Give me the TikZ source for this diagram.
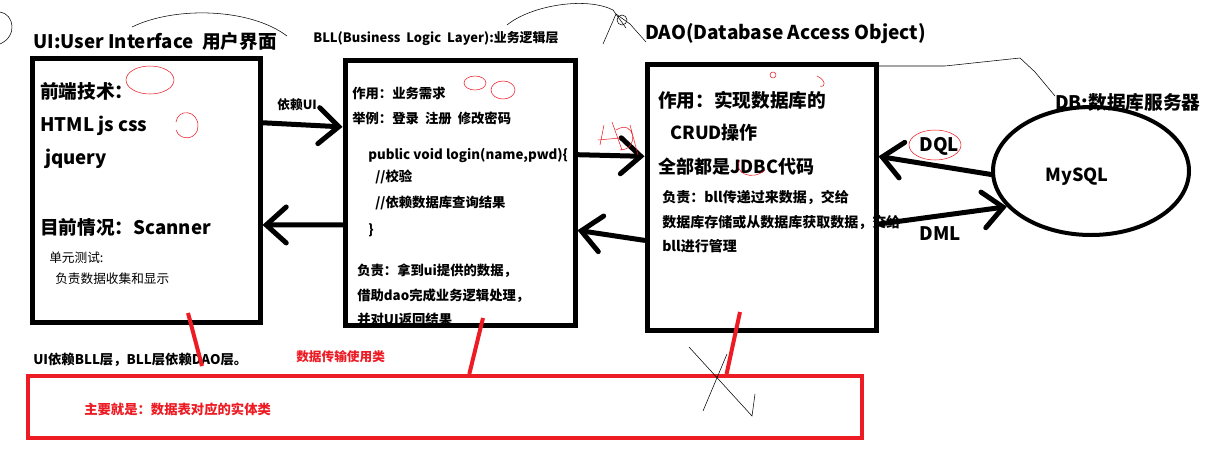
\documentclass[tikz,border=0pt]{standalone}
\usepackage{fontspec}
\setmainfont{Noto Sans CJK SC}
\usetikzlibrary{arrows.meta,calc,fit,shapes.geometric}
\definecolor{paintred}{RGB}{237,28,36}
\tikzset{
    layer/.style = {
        draw,
        line width=3.75pt,
        inner sep=0pt,
        },
    txt/.style = {
        anchor=base west,
        inner sep=0pt,
        },
    big/.style = {
        txt,
        font=\bfseries\fontsize{13.5}{16}\selectfont,
        },
    mid/.style = {
        txt,
        font=\bfseries\fontsize{10}{12}\selectfont,
        },
    small/.style = {
        txt,
        font=\fontsize{9.5}{11}\selectfont,
        },
    hand arrow/.style = {
        line width=3.75pt,
        line cap=round,
        -{Straight Barb[length=15pt, width=27pt, line cap=round]},
        },
    red line/.style = {
        draw=paintred,
        line width=3pt,
        },
    scribble/.style = {
        thin,
        },
    red scribble/.style = {
        draw=paintred,
        thin,
        },
}
\begin{document}
\begin{tikzpicture}[x=0.75pt, y=-0.75pt]
    \useasboundingbox (0,0) rectangle (1225,454);

    % layers
    \node[layer, fit={(32,58) (260,322)}] (ui) {};
    \node[layer, fit={(345,60) (575,325)}] (bll) {};
    \node[layer, fit={(647,64) (876,330)}] (dao) {};
    \node[draw, ellipse, line width=3pt, minimum width=147pt, minimum height=96pt] (db) at (1091,171) {};
    \node[draw=paintred, line width=3pt, inner sep=0pt, fit={(28,376) (862,438)}] (entity) {};

    % titles
    \node[big, font=\bfseries\fontsize{14}{16}\selectfont] (uiTitle) at (33,48) {UI:User Interface\ \ 用户界面};
    \node[mid, font=\bfseries\fontsize{9.7}{12}\selectfont] (bllTitle) at (313,42) {BLL(Business\ \ Logic\ \ Layer):业务逻辑层};
    \node[big, font=\bfseries\fontsize{14.3}{16}\selectfont] (daoTitle) at (645,39) {DAO(Database Access Object)};
    \node[big, font=\bfseries\fontsize{14}{16}\selectfont] (dbTitle) at (1055,109) {DB:数据库服务器};

    % ui
    \node[big, font=\bfseries\fontsize{14}{16}\selectfont] (uiTech) at (40,98) {前端技术：};
    \node[big, font=\bfseries\fontsize{14}{16}\selectfont] (uiHtml) at (40,131) {HTML js css};
    \node[big, font=\bfseries\fontsize{14}{16}\selectfont] (uiJq) at (45,164) {jquery};
    \node[big, font=\bfseries\fontsize{14}{16}\selectfont] (uiNow) at (40,234) {目前情况：Scanner};
    \node[small] (uiTest) at (49,262) {单元测试:};
    \node[small] (uiDuty) at (55,283) {负责数据收集和显示};

    % bll
    \node[mid] (bllUse) at (352,98) {作用：业务需求};
    \node[mid] (bllEg) at (352,123) {举例：登录\ \ 注册\ \ 修改密码};
    \node[mid] (bllCode) at (368,159) {public void login(name,pwd)\{};
    \node[mid] (bllCheck) at (375,181) {//校验};
    \node[mid] (bllQuery) at (375,207) {//依赖数据库查询结果};
    \node[mid] (bllEnd) at (368,234) {\}};
    \node[mid] (bllDuty) at (357,275) {负责：拿到ui提供的数据，};
    \node[mid] (bllDao) at (357,300) {借助dao完成业务逻辑处理，};
    \begin{scope}
        \clip (345,60) rectangle (575,323);
        \node[mid] (bllRet) at (357,324) {并对UI返回结果};
    \end{scope}

    % dao
    \node[big, font=\bfseries\fontsize{14}{16}\selectfont] (daoUse) at (658,107) {作用：实现数据库的};
    \node[big] (daoCrud) at (670,139) {CRUD操作};
    \node[big] (daoJdbc) at (658,173) {全部都是JDBC代码};
    \node[mid, font=\bfseries\fontsize{10.5}{12}\selectfont] (daoDuty) at (662,202) {负责：bll传递过来数据，交给};
    \node[mid, font=\bfseries\fontsize{10.5}{12}\selectfont] (daoStore) at (662,227) {数据库存储或从数据库获取数据，交给};
    \node[mid, font=\bfseries\fontsize{10.5}{12}\selectfont] (daoMgr) at (662,251) {bll进行管理};

    % db
    \node[font=\bfseries\fontsize{13.5}{16}\selectfont, inner sep=0pt] (mysql) at (1077,177) {MySQL};

    % connectors
    \draw[hand arrow] ($(ui.north east)!0.25!(ui.south east)$) -- ($(bll.north west)!0.257!(bll.south west)$) node[midway, above=5pt, xshift=-4pt, font=\bfseries\fontsize{9.5}{11}\selectfont] (depUI) {依赖UI};
    \draw[hand arrow] ($(bll.north west)!0.62!(bll.south west)$) -- ($(ui.north east)!0.63!(ui.south east)$);
    \draw[hand arrow] ($(bll.north east)!0.36!(bll.south east)$) -- ($(dao.north west)!0.35!(dao.south west)$);
    \draw[hand arrow] ($(dao.north west)!0.66!(dao.south west)$) -- ($(bll.north east)!0.64!(bll.south east)$);
    \draw[hand arrow] (db.182) -- ($(dao.north east)!0.35!(dao.south east)$) node[pos=0.46, above=3pt, font=\bfseries\fontsize{14}{16}\selectfont] (dql) {DQL};
    \draw[hand arrow] ($(dao.north east)!0.6!(dao.south east)$) -- (db.203) node[pos=0.48, below=3pt, font=\bfseries\fontsize{14}{16}\selectfont] (dml) {DML};

    % notes
    \node[mid] (note) at (33,364) {UI依赖BLL层，BLL层依赖DAO层。};
    \node[mid, text=paintred, font=\bfseries\fontsize{9.5}{11}\selectfont] (transfer) at (296,361) {数据传输使用类};
    \node[mid, text=paintred] (entityTxt) at (84,414) {主要就是：数据表对应的实体类};

    % red links
    \coordinate (uiMark) at (188,313);
    \coordinate (noteMark) at (202,366);
    \coordinate (bllMark) at (483,318);
    \coordinate (daoMark) at (740,312);
    \draw[red line] (uiMark) -- (noteMark);
    \draw[red line] (bllMark) -- ($(entity.north west)!0.529!(entity.north east)$);
    \draw[red line] (daoMark) -- ($(entity.north west)!0.836!(entity.north east)$);

    % scribbles
    \draw[scribble] (0,12) .. controls (14,14) and (18,36) .. (0,44);
    \draw[scribble] (132,27) .. controls (175,6) and (250,8) .. (287,36);
    \draw[scribble] (507,25) .. controls (530,6) and (585,-4) .. (613,10) -- (626,28);
    \draw[scribble] (603,44) -- (616,14) -- (630,24) -- (646,42);
    \draw[scribble] (622,20) circle (5);
    \draw[scribble] (878,66) -- (945,66) -- (1020,58) -- (1035,72) -- (1055,96);
    \draw[scribble] (689,347) -- (752,416) -- (755,394);
    \draw[scribble] (727,354) -- (703,411);
    \draw[red scribble] (150,80) ellipse (24 and 14);
    \draw[red scribble] (176,122) .. controls (178,108) and (198,110) .. (198,126) .. controls (198,140) and (180,142) .. (176,130);
    \draw[red scribble] (475,83) ellipse (11 and 7);
    \draw[red scribble] (503,90) ellipse (12 and 9);
    \draw[red scribble] (773,75) circle (3);
    \draw[red scribble] (817,76) .. controls (826,80) and (826,88) .. (820,86);
    \draw[red scribble] (740,160) .. controls (732,172) and (752,182) .. (765,170);
    \draw[red scribble] (935,145) ellipse (26 and 15);
    \draw[red scribble] (600,145) -- (604,125) (598,140) -- (620,138) (612,122) -- (622,150) (616,130) .. controls (635,118) and (640,150) .. (620,150) (630,125) -- (638,155);
\end{tikzpicture}
\end{document}
